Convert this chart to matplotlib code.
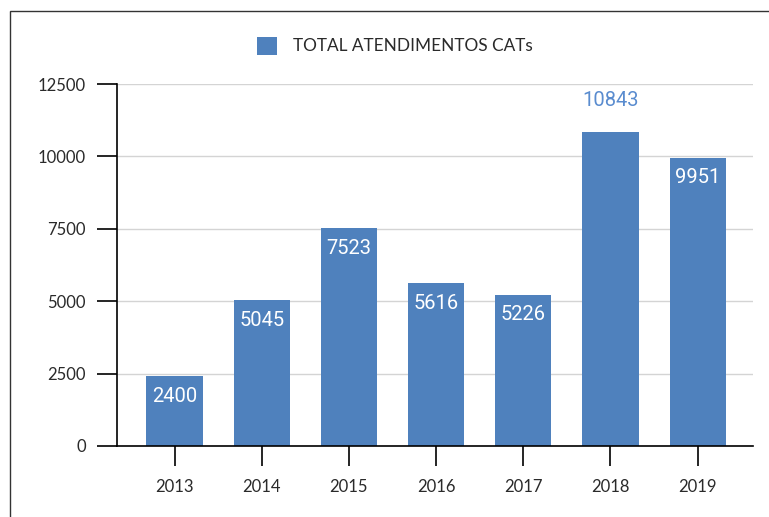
import matplotlib
matplotlib.use("Agg")
import matplotlib.pyplot as plt
from matplotlib.patches import Rectangle

years = ["2013", "2014", "2015", "2016", "2017", "2018", "2019"]
values = [2400, 5045, 7523, 5616, 5226, 10843, 9951]
yticks = [0, 2500, 5000, 7500, 10000, 12500]
series_name = "TOTAL ATENDIMENTOS CATs"

W, H = 769, 517
fig = plt.figure(figsize=(W / 100, H / 100), dpi=100)
fig.patch.set_facecolor("white")

# outer border (left and top edges visible)
fig.add_artist(Rectangle((10 / W, -0.1), 1.2, 1 - 11 / H + 0.1,
                         transform=fig.transFigure, fill=False,
                         edgecolor="#333333", linewidth=1.0))

ax = fig.add_axes([117 / W, (H - 446) / H, (753 - 117) / W, (446 - 84) / H])
bar_color = "#4f81bd"
x = list(range(len(years)))
ax.bar(x, values, width=0.645, color=bar_color, zorder=3)

ax.set_xlim(-0.66, 6.635)
ax.set_ylim(0, 12500)
ax.set_yticks(yticks)
ax.set_yticklabels([str(v) for v in yticks])
ax.set_xticks(x)
ax.set_xticklabels(years)

for s in ["top", "right", "bottom"]:
    ax.spines[s].set_visible(False)
ax.spines["left"].set_color("black")
ax.spines["left"].set_linewidth(1.2)
ax.axhline(0, color="black", linewidth=1.2, zorder=4, clip_on=False)

ax.yaxis.grid(True, color="#d4d4d4", linewidth=1.0, zorder=0)
ax.set_axisbelow(True)

ax.tick_params(axis="y", length=14.4, width=1.2, color="black", pad=8)
ax.tick_params(axis="x", length=14.4, width=1.2, color="black", pad=9)
for lab in ax.get_yticklabels() + ax.get_xticklabels():
    lab.set_fontfamily(["Lato", "DejaVu Sans"])
    lab.set_fontsize(12)
    lab.set_color("#2a2a2a")

# data labels
for xi, v in zip(x, values):
    if v > 10500:
        ax.annotate(str(v), (xi, v), xytext=(0, 23), textcoords="offset points",
                    ha="center", va="center", color="#5a8ccf",
                    fontsize=14.5, family=["Roboto", "DejaVu Sans"])
    else:
        ax.annotate(str(v), (xi, v), xytext=(0, -14.5), textcoords="offset points",
                    ha="center", va="center", color="white",
                    fontsize=14.5, family=["Roboto", "DejaVu Sans"], zorder=5)

# legend
fig.add_artist(Rectangle((257 / W, 1 - 55 / H), 20 / W, 18 / H,
                         transform=fig.transFigure, facecolor=bar_color,
                         edgecolor="none"))
fig.text(293 / W, 1 - 46 / H, series_name, ha="left", va="center",
         fontsize=12.4, color="#2a2a2a", family=["Lato", "DejaVu Sans"])

fig.savefig("out.png", dpi=100)
